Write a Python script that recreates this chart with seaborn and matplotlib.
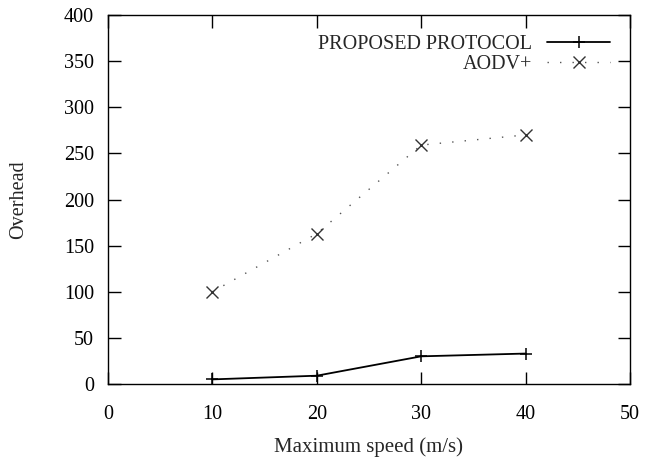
import pandas as pd
import matplotlib
matplotlib.use("Agg")
import matplotlib.pyplot as plt
import seaborn as sns

# data
speed = [10, 20, 30, 40]
proposed = [5, 9, 30, 33]
aodv = [100, 163, 259, 270]

df = pd.DataFrame({
    "speed": speed * 2,
    "overhead": proposed + aodv,
    "protocol": ["PROPOSED PROTOCOL"] * 4 + ["AODV+"] * 4,
})

sns.set_style("ticks")
plt.rcParams["font.family"] = ["Liberation Serif", "DejaVu Serif"]
fs = 14.5

fig = plt.figure(figsize=(6.45, 4.59), dpi=100)
ax = fig.add_axes([0.1674, 0.1634, 0.8093, 0.8039])

sns.lineplot(data=df[df.protocol == "PROPOSED PROTOCOL"], x="speed", y="overhead",
             color="black", linewidth=1.3, marker="+", markersize=9,
             markeredgewidth=1.1, markeredgecolor="black",
             label="PROPOSED PROTOCOL", ax=ax)
sns.lineplot(data=df[df.protocol == "AODV+"], x="speed", y="overhead",
             color="#555555", linewidth=1, linestyle=(0, (1, 8)), marker="x",
             markersize=8, markeredgewidth=1, markeredgecolor="#333333",
             label="AODV+", ax=ax)

ax.set_xlim(0, 50)
ax.set_ylim(0, 400)
ax.set_xticks(range(0, 51, 10))
ax.set_yticks(range(0, 401, 50))
ax.tick_params(direction="in", top=True, right=True, length=9, width=1,
               labelsize=fs, colors="black")
ax.tick_params(axis="x", pad=15)
ax.tick_params(axis="y", pad=10)
for s in ax.spines.values():
    s.set_visible(True)
    s.set_color("black")
    s.set_linewidth(1)

ax.set_xlabel("Maximum speed (m/s)", fontsize=15, labelpad=10)
ax.set_ylabel("Overhead", fontsize=fs, labelpad=26)

ax.legend(loc="upper right", frameon=False, markerfirst=False, handlelength=3.1,
          handletextpad=0.75, fontsize=fs, borderaxespad=0.6, borderpad=0.4,
          labelspacing=0.05)

fig.savefig("out.png", dpi=100)
